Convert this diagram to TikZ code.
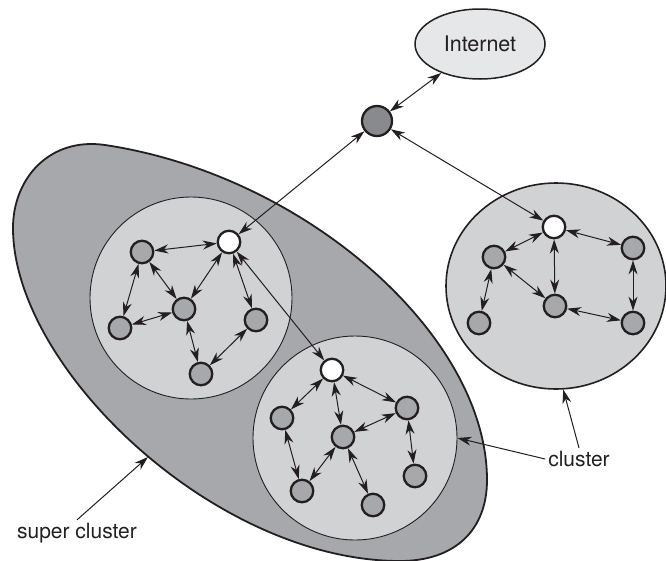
\documentclass[tikz,border=0pt]{standalone}
\usepackage{fontspec}
\setmainfont{TeX Gyre Heros}
\usetikzlibrary{arrows.meta,shapes.geometric}
\definecolor{superfill}{HTML}{A7A8AB}
\definecolor{clusterfill}{HTML}{D1D2D4}
\definecolor{nodefill}{HTML}{A7A8AB}
\definecolor{routerfill}{HTML}{898A8D}
\definecolor{netfill}{HTML}{E6E7E8}
\definecolor{ink}{HTML}{231F20}
\tikzset{
  tip/.tip={Stealth[length=14pt,width=9pt,inset=4.5pt]},
  peer/.style={circle, draw=ink, fill=nodefill, line width=2.3pt, minimum size=22.5pt, inner sep=0pt},
  headpeer/.style={peer, fill=white},
  router/.style={peer, fill=routerfill, minimum size=30pt},
  clus/.style={circle, draw=ink, fill=clusterfill, line width=0.9pt, inner sep=0pt},
  link/.style={tip-tip, line width=1pt, draw=ink},
  pointer/.style={-tip, line width=1pt, draw=ink},
  lbl/.style={font=\fontsize{21}{25}\selectfont, text=ink, inner sep=3pt},
}
\begin{document}
\begin{tikzpicture}[x=1pt,y=-1pt]
\useasboundingbox (0,0) rectangle (666,560);
% super cluster
\draw[line width=1.8pt, draw=ink, fill=superfill]
  (13,228) .. controls (13,178) and (50,137) .. (105,145)
  .. controls (305,175) and (487,335) .. (487,480)
  .. controls (487,530) and (455,561) .. (400,561)
  .. controls (215,561) and (13,368) .. cycle;
\coordinate (scb) at (148,457);
% clusters
\node[clus, minimum size=202pt] (cl1) at (191,298) {};
\node[clus, minimum size=204pt] (cl2) at (355,438) {};
\node[clus, ellipse, minimum width=220pt, minimum height=206pt, line width=1.6pt] (cl3) at (556,286) {};
% internet and router
\node[ellipse, draw=ink, fill=netfill, line width=1.5pt, minimum width=130pt, minimum height=70pt,
      font=\fontsize{21.5}{25}\selectfont, text=ink] (net) at (480,44) {Internet};
\node[router] (rt) at (377,121) {};
% cluster 1 peers
\node[headpeer] (a1) at (229,242) {};
\node[peer] (b1) at (142,252) {};
\node[peer] (c1) at (184,309) {};
\node[peer] (d1) at (120,328) {};
\node[peer] (e1) at (256,320) {};
\node[peer] (f1) at (201,374) {};
% cluster 2 peers
\node[headpeer] (a2) at (332,370) {};
\node[peer] (b2) at (282,418) {};
\node[peer] (c2) at (343,437) {};
\node[peer] (d2) at (407,408) {};
\node[peer] (e2) at (302,491) {};
\node[peer] (f2) at (373,505) {};
\node[peer] (g2) at (415,476) {};
% cluster 3 peers
\node[headpeer] (a3) at (554,227) {};
\node[peer] (b3) at (494,257) {};
\node[peer] (c3) at (555,306) {};
\node[peer] (d3) at (633,248) {};
\node[peer] (e3) at (479,323) {};
\node[peer] (f3) at (633,323) {};
% links
\draw[link] (rt) -- (net);
\draw[link] (rt) -- (a1);
\draw[link] (rt) -- (a3);
\draw[link] (a1) -- (a2);
\draw[link] (b1) -- (a1);
\draw[link] (a1) -- (c1);
\draw[link] (a1) -- (e1);
\draw[link] (b1) -- (c1);
\draw[link] (b1) -- (d1);
\draw[link] (d1) -- (c1);
\draw[link] (c1) -- (f1);
\draw[link] (f1) -- (e1);
\draw[link] (a2) -- (b2);
\draw[link] (a2) -- (c2);
\draw[link] (a2) -- (d2);
\draw[link] (d2) -- (c2);
\draw[link] (b2) -- (e2);
\draw[link] (c2) -- (e2);
\draw[link] (c2) -- (f2);
\draw[link] (d2) -- (g2);
\draw[link] (a3) -- (b3);
\draw[link] (a3) -- (c3);
\draw[link] (a3) -- (d3);
\draw[link] (b3) -- (c3);
\draw[link] (b3) -- (e3);
\draw[link] (d3) -- (f3);
\draw[link] (c3) -- (f3);
% labels
\node[lbl] (clbl) at (579,459) {cluster};
\node[lbl] (slbl) at (77,533) {super cluster};
\draw[pointer] (clbl.west) -- (cl2.east);
\draw[pointer] (clbl.north) -- (cl3.-86);
\draw[pointer] (slbl.north) -- (scb);
\end{tikzpicture}
\end{document}
